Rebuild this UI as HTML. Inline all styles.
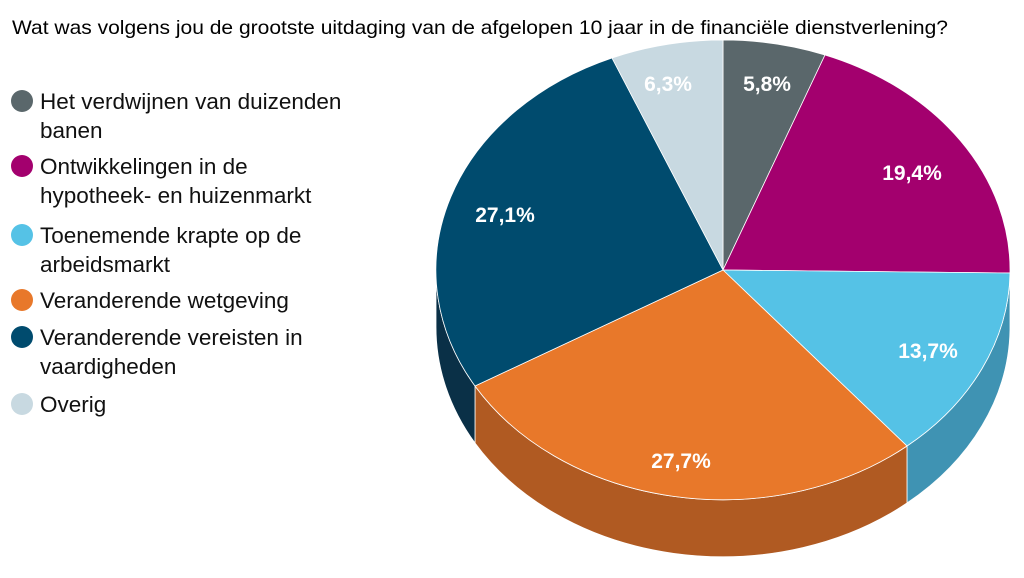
<!DOCTYPE html>
<html><head><meta charset="utf-8"><style>
body{margin:0;width:1024px;height:573px;background:#fff;overflow:hidden;font-family:"Liberation Sans",Arial,sans-serif}
</style></head><body>
<svg width="1024" height="573" viewBox="0 0 1024 573" xmlns="http://www.w3.org/2000/svg" font-family="Liberation Sans, Arial, sans-serif">
<text x="12" y="34" font-size="19.5" fill="#000" textLength="936" lengthAdjust="spacingAndGlyphs">Wat was volgens jou de grootste uitdaging van de afgelopen 10 jaar in de financiële dienstverlening?</text>
<g font-size="22.5" fill="#111">
<circle cx="22" cy="101" r="11" fill="#5a676b"/><text x="40" y="109">Het verdwijnen van duizenden</text><text x="40" y="138">banen</text>
<circle cx="22" cy="166" r="11" fill="#a3006e"/><text x="40" y="174">Ontwikkelingen in de</text><text x="40" y="203">hypotheek- en huizenmarkt</text>
<circle cx="22" cy="235" r="11" fill="#55c2e6"/><text x="40" y="243">Toenemende krapte op de</text><text x="40" y="272">arbeidsmarkt</text>
<circle cx="22" cy="300" r="11" fill="#e8782a"/><text x="40" y="308">Veranderende wetgeving</text>
<circle cx="22" cy="337" r="11" fill="#004b6e"/><text x="40" y="345">Veranderende vereisten in</text><text x="40" y="374">vaardigheden</text>
<circle cx="22" cy="404" r="11" fill="#c8d9e1"/><text x="40" y="412">Overig</text>
</g>
<g stroke="#fff" stroke-width="0.8">
<path d="M1010,273 A287,230 0 0 1 907,446 L907,503 A287,230 0 0 0 1010,330 Z" fill="#3f93b3"/>
<path d="M907,446 A287,230 0 0 1 475,386 L475,443 A287,230 0 0 0 907,503 Z" fill="#b05a22"/>
<path d="M475,386 A287,230 0 0 1 436,270 L436,327 A287,230 0 0 0 475,443 Z" fill="#0a3047"/>
<path d="M723,270 L723,40 A287,230 0 0 1 825,55 Z" fill="#5a676b"/>
<path d="M723,270 L825,55 A287,230 0 0 1 1010,273 Z" fill="#a3006e"/>
<path d="M723,270 L1010,273 A287,230 0 0 1 907,446 Z" fill="#55c2e6"/>
<path d="M723,270 L907,446 A287,230 0 0 1 475,386 Z" fill="#e8782a"/>
<path d="M723,270 L475,386 A287,230 0 0 1 612,58 Z" fill="#004b6e"/>
<path d="M723,270 L612,58 A287,230 0 0 1 723,40 Z" fill="#c8d9e1"/>
</g>
<g font-size="21" fill="#fff" text-anchor="middle" font-weight="bold">
<text x="767" y="91">5,8%</text>
<text x="912" y="180">19,4%</text>
<text x="928" y="358">13,7%</text>
<text x="681" y="468">27,7%</text>
<text x="505" y="222">27,1%</text>
<text x="668" y="91">6,3%</text>
</g>
</svg>
</body></html>
